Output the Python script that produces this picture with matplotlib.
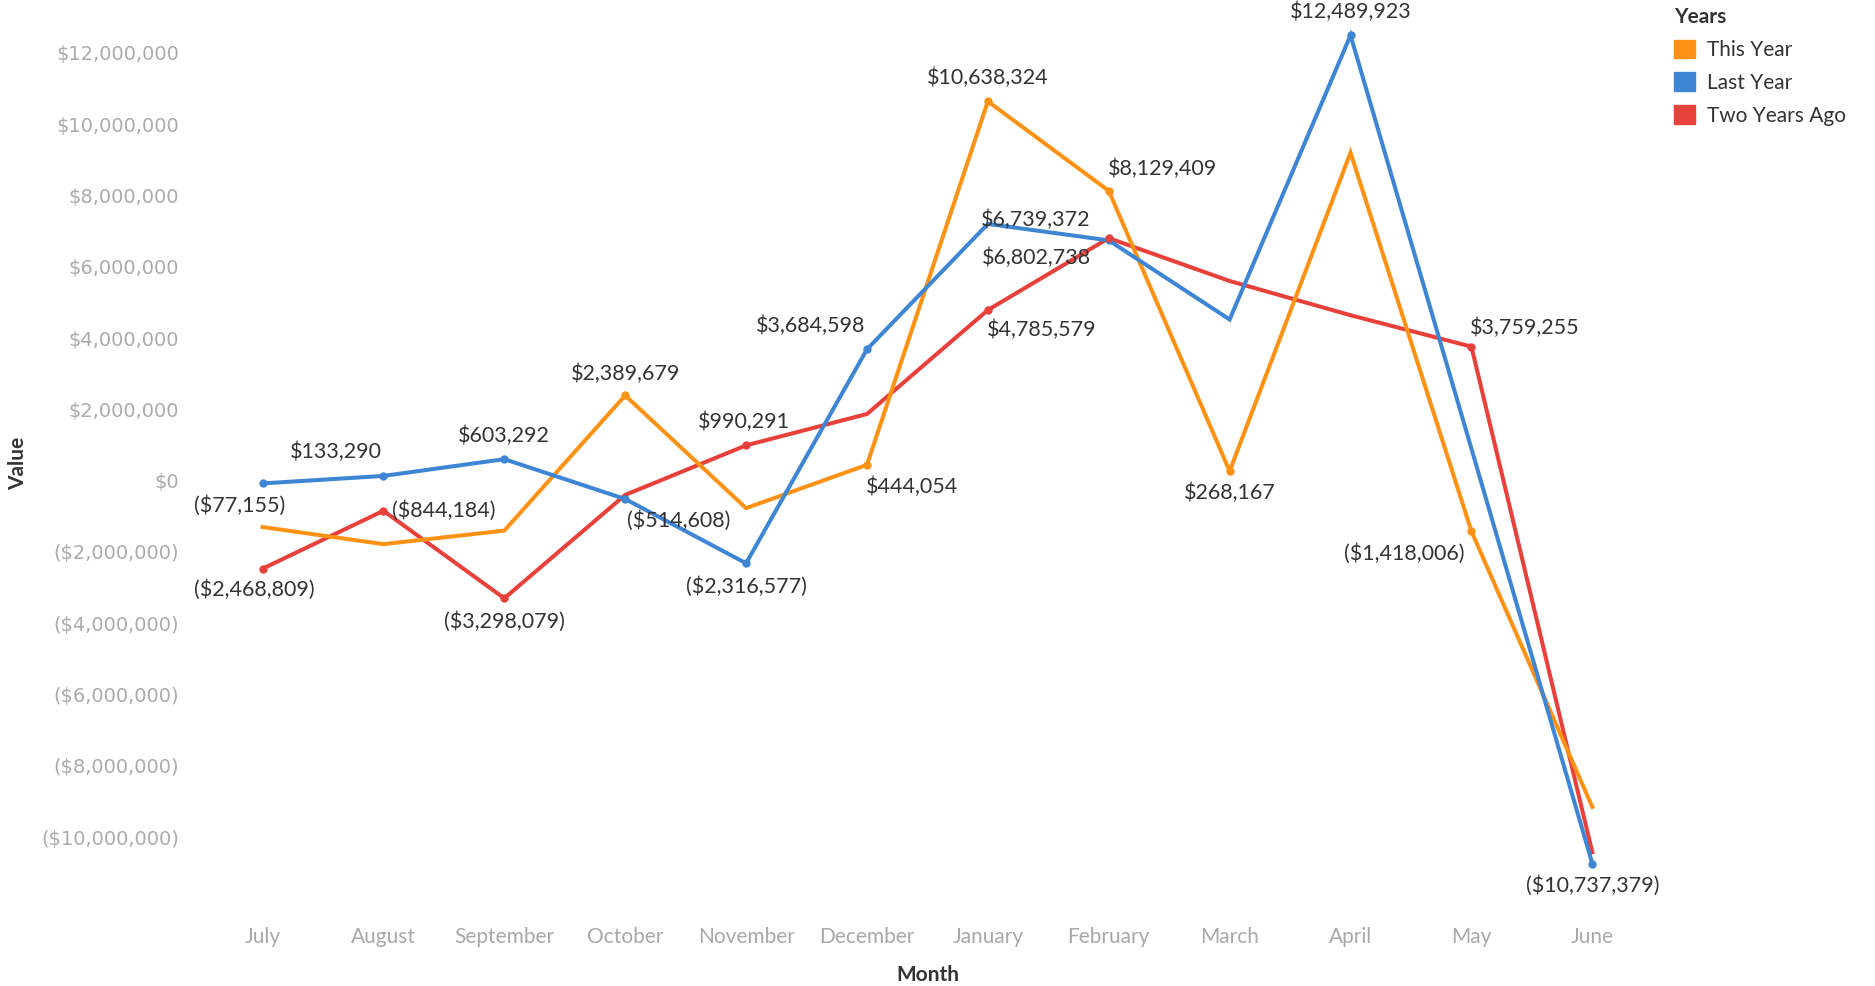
import matplotlib
matplotlib.use("Agg")
import matplotlib.pyplot as plt
from matplotlib.patches import Patch

months = ["July", "August", "September", "October", "November", "December",
          "January", "February", "March", "April", "May", "June"]

this_year = [-1_300_000, -1_780_000, -1_400_000, 2_389_679, -770_000, 444_054,
             10_638_324, 8_129_409, 268_167, 9_200_000, -1_418_006, -9_150_000]
last_year = [-77_155, 133_290, 603_292, -514_608, -2_316_577, 3_684_598,
             7_200_000, 6_739_372, 4_520_000, 12_489_923, 900_000, -10_737_379]
two_years_ago = [-2_468_809, -844_184, -3_298_079, -400_000, 990_291, 1_870_000,
                 4_785_579, 6_802_738, 5_600_000, 4_640_000, 3_759_255, -10_420_000]

series_names = ["This Year", "Last Year", "Two Years Ago"]
colors = {"This Year": "#FF9214", "Last Year": "#3E86D4", "Two Years Ago": "#E8403A"}
y_ticks = list(range(-10_000_000, 12_000_001, 2_000_000))

# labelled points: (series, month index, dx px, dy px)
labels = [
    ("Last Year", 0, -23, -22), ("Last Year", 1, -47, 24), ("Last Year", 2, 0, 23),
    ("Two Years Ago", 0, -8, -21), ("Two Years Ago", 1, 60, 0), ("Two Years Ago", 2, 0, -23),
    ("This Year", 3, 0, 22), ("Last Year", 3, 53, -22), ("Two Years Ago", 4, -2, 23),
    ("Last Year", 4, 0, -23), ("Last Year", 5, -56, 23), ("This Year", 5, 45, -22),
    ("This Year", 6, 0, 23), ("Last Year", 7, -73, 20), ("Two Years Ago", 7, -72, -20),
    ("Two Years Ago", 6, 54, -20), ("This Year", 7, 54, 22), ("This Year", 8, 0, -22),
    ("Last Year", 9, 0, 23), ("Two Years Ago", 10, 53, 19), ("This Year", 10, -67, -22),
    ("Last Year", 11, 0, -22),
]


def money(v):
    s = f"${abs(v):,.0f}"
    return f"({s})" if v < 0 else s


data = {"This Year": this_year, "Last Year": last_year, "Two Years Ago": two_years_ago}

fig = plt.figure(figsize=(18.75, 9.86), dpi=100)
ax = fig.add_axes([190 / 1875, 81 / 986, 1470 / 1875, 895 / 986])

x = list(range(len(months)))
for name in ["Two Years Ago", "This Year", "Last Year"]:
    ax.plot(x, data[name], color=colors[name], lw=2.9, solid_joinstyle="miter", zorder=2)

for name, i, dx, dy in labels:
    v = data[name][i]
    ax.plot(i, v, "o", color=colors[name], ms=5, zorder=3)
    ax.annotate(money(v), (i, v), xytext=(dx, dy), textcoords="offset pixels",
                ha="center", va="center", fontsize=15.5, color="#333333",
                family="Lato", zorder=4)

ax.set_xlim(-0.6, 11.56)
ax.set_ylim(-11.9e6, 13.2e6)
ax.set_xticks(x)
ax.set_xticklabels(months, fontsize=15, color="#a8a8a8", family="Lato")
ax.set_yticks(y_ticks)
ax.set_yticklabels([money(t) for t in y_ticks], fontsize=14, color="#ababab",
                   family="DejaVu Sans")
ax.tick_params(length=0)
ax.tick_params(axis="x", pad=16)
ax.tick_params(axis="y", pad=8)
for s in ax.spines.values():
    s.set_visible(False)

fig.text(18 / 1875, 1 - 463 / 986, "Value", rotation=90, ha="center", va="center",
         fontsize=15, fontweight="bold", color="#333333", family="Lato")
fig.text(928 / 1875, 1 - 975 / 986, "Month", ha="center", va="center",
         fontsize=15, fontweight="bold", color="#333333", family="Lato")

handles = [Patch(facecolor=colors[n], edgecolor=colors[n], label=n) for n in series_names]
leg = fig.legend(handles=handles, title="Years", loc="upper left",
                 bbox_to_anchor=(1672 / 1875, 0.995), frameon=False,
                 handlelength=1.0, handleheight=1.0, handletextpad=0.6,
                 labelspacing=0.6, borderaxespad=0.0, borderpad=0.1,
                 prop={"family": "Lato", "size": 15},
                 title_fontproperties={"family": "Lato", "size": 15, "weight": "bold"},
                 alignment="left")
for t in leg.get_texts():
    t.set_color("#333333")
leg.get_title().set_color("#333333")

fig.savefig("out.png", dpi=100)
